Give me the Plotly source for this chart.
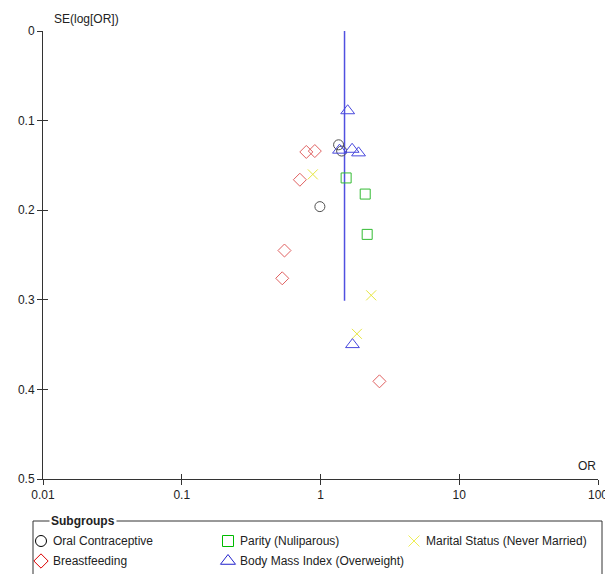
import plotly.graph_objects as go

# ---- data ----
oc_or = [1.35, 1.42, 0.99]
oc_se = [0.127, 0.134, 0.196]
parity_or = [1.53, 2.10, 2.17]
parity_se = [0.164, 0.182, 0.227]
marital_or = [0.88, 2.32, 1.83]
marital_se = [0.160, 0.295, 0.338]
bf_or = [0.79, 0.91, 0.71, 0.55, 0.53, 2.66]
bf_se = [0.135, 0.134, 0.166, 0.245, 0.276, 0.391]
bmi_or = [1.57, 1.37, 1.69, 1.88, 1.70]
bmi_se = [0.089, 0.133, 0.132, 0.136, 0.350]
pooled_or = 1.49
pooled_se_max = 0.301

x_ticks = [0.01, 0.1, 1, 10, 100]
x_ticktext = ["0.01", "0.1", "1", "10", "100"]
y_ticks = [0, 0.1, 0.2, 0.3, 0.4, 0.5]
y_ticktext = ["0", "0.1", "0.2", "0.3", "0.4", "0.5"]

series = [
    ("Oral Contraceptive", oc_or, oc_se, "circle-open", "#505050", "#000000", 10),
    ("Parity (Nuliparous)", parity_or, parity_se, "square-open", "#33bb33", "#00bb00", 10),
    ("Marital Status (Never Married)", marital_or, marital_se, "x-thin-open", "#e6e640", "#eeee55", 10),
    ("Breastfeeding", bf_or, bf_se, "diamond-open", "#e06060", "#dd0000", 10),
    ("Body Mass Index (Overweight)", bmi_or, bmi_se, "triangle-up-open", "#4848dd", "#2222cc", 12),
]

# page body has an 8px margin; the figure is placed at (8, 8) in the window.
OFF = 8
WIN_W, WIN_H = 613, 574
W, H = WIN_W - OFF, WIN_H - OFF
# plot area in window pixels
L, R, T, B = 43, 598, 31, 479
FONT = "Liberation Sans, Arial, sans-serif"

fig = go.Figure()

# pooled estimate line
fig.add_trace(go.Scatter(x=[pooled_or, pooled_or], y=[0, pooled_se_max], mode="lines",
                         line=dict(color="#5050e0", width=1.5), hoverinfo="skip"))

for name, xs, ys, sym, col, _, sz in series:
    fig.add_trace(go.Scatter(x=xs, y=ys, mode="markers", name=name,
                             marker=dict(symbol=sym, size=sz, color=col,
                                         line=dict(color=col, width=1))))

# dummy trace for tick overlay axes
fig.add_trace(go.Scatter(x=[None], y=[None], xaxis="x3", yaxis="y3", hoverinfo="skip"))

# legend drawn on a window-pixel overlay axis
leg_pos = [(41, 541), (228, 541), (414, 541), (41, 561), (228, 561)]
for (name, xs, ys, sym, _, lcol, sz), (px, py) in zip(series, leg_pos):
    fig.add_trace(go.Scatter(x=[px], y=[py], xaxis="x2", yaxis="y2", mode="markers",
                             marker=dict(symbol=sym, size=sz + 1, color=lcol,
                                         line=dict(color=lcol, width=1)),
                             hoverinfo="skip"))
    fig.add_annotation(x=px + 10, y=py, xref="x2", yref="y2", text=name, showarrow=False,
                       xanchor="left", yanchor="middle", font=dict(family=FONT, size=12, color="#222"))

axis_common = dict(showgrid=False, zeroline=False, linecolor="#333", linewidth=1,
                   tickcolor="#333", ticklen=5, tickwidth=1, automargin=False,
                   tickfont=dict(family=FONT, size=12, color="#222"))

y_bottom = OFF + H  # window y of the figure's bottom edge

fig.update_layout(
    width=W, height=H, showlegend=False,
    margin=dict(l=0, r=0, t=0, b=0, pad=0, autoexpand=False),
    paper_bgcolor="white", plot_bgcolor="rgba(0,0,0,0)",
    xaxis=dict(type="log", range=[-2, 2], domain=[(L - OFF) / W, (R - OFF) / W], anchor="y",
               tickvals=x_ticks, ticktext=x_ticktext, ticks="outside", showline=True,
               **axis_common),
    yaxis=dict(range=[0.5, 0], domain=[(y_bottom - B) / H, (y_bottom - T) / H], anchor="x",
               tickvals=y_ticks, ticktext=y_ticktext, ticks="outside", showline=True,
               **axis_common),
    xaxis3=dict(type="log", range=[-2, 2], overlaying="x", anchor="y3", automargin=False,
                tickvals=x_ticks, ticks="inside", showticklabels=False, showline=False,
                showgrid=False, zeroline=False, tickcolor="#333", ticklen=5),
    yaxis3=dict(range=[0.5, 0], overlaying="y", anchor="x3", automargin=False,
                tickvals=y_ticks, ticks="inside", showticklabels=False, showline=False,
                showgrid=False, zeroline=False, tickcolor="#333", ticklen=5),
    xaxis2=dict(domain=[0, 1], range=[OFF, WIN_W], visible=False, anchor="y2", automargin=False),
    yaxis2=dict(domain=[0, 1], range=[y_bottom, OFF], visible=False, anchor="x2", automargin=False),
)

# legend box and titles (window-pixel coordinates)
fig.add_shape(type="rect", xref="x2", yref="y2", x0=33, x1=602, y0=521, y1=590,
              line=dict(color="#333", width=1), fillcolor="rgba(0,0,0,0)")
fig.add_annotation(x=49, y=521, xref="x2", yref="y2", text="<b>Subgroups</b>", showarrow=False,
                   xanchor="left", yanchor="middle", bgcolor="white", borderpad=1,
                   font=dict(family=FONT, size=12, color="#222"))
fig.add_annotation(x=52, y=19, xref="x2", yref="y2", text="SE(log[OR])", showarrow=False,
                   xanchor="left", yanchor="middle", font=dict(family=FONT, size=12, color="#222"))
fig.add_annotation(x=598, y=466, xref="x2", yref="y2", text="OR", showarrow=False,
                   xanchor="right", yanchor="middle", font=dict(family=FONT, size=12, color="#222"))

fig.write_html("out.html")
